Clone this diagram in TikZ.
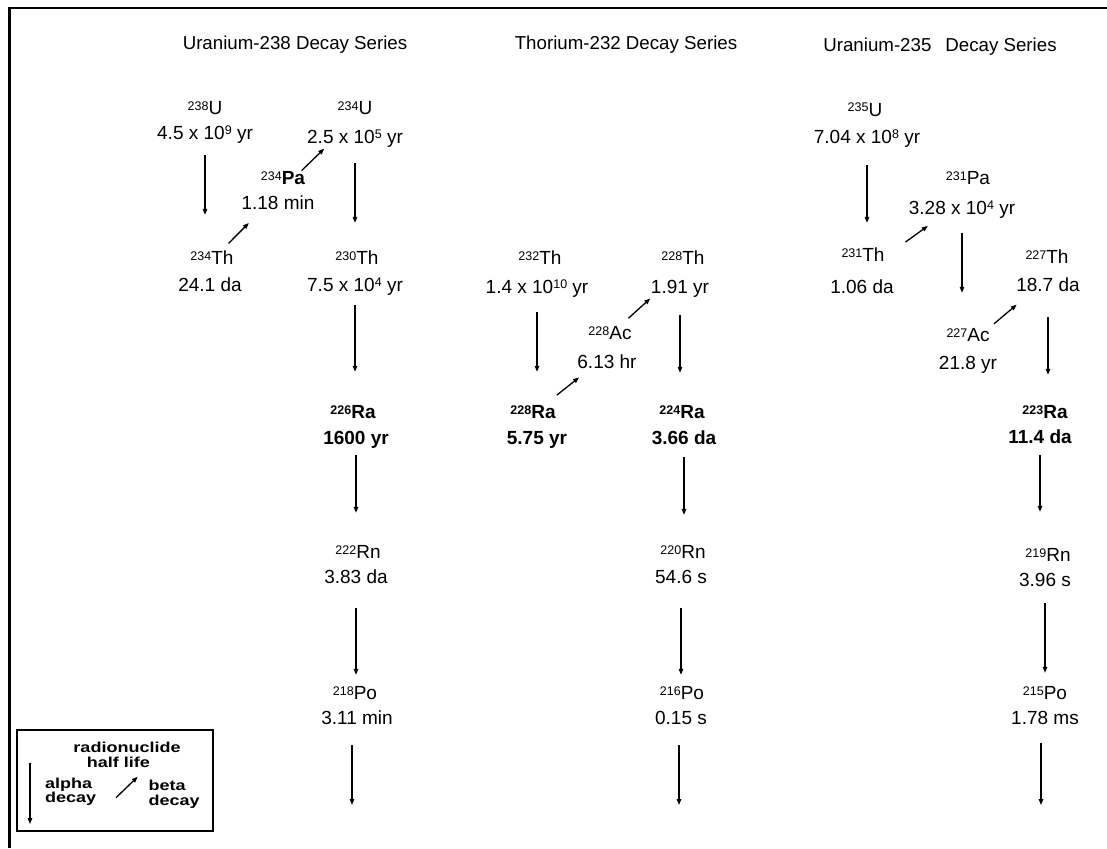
\documentclass[tikz,border=0pt]{standalone}
\usepackage{fontspec}
\setmainfont{Liberation Sans}
\usetikzlibrary{arrows.meta,calc}
\newcommand\iso[2]{\raisebox{4.5pt}{\fontsize{12.5}{12.5}\selectfont #1}#2}
\newcommand\sps[1]{\raisebox{5.5pt}{\fontsize{12.5}{12.5}\selectfont #1}}
\newcommand\squash[1]{\scalebox{1}[0.8]{#1}}
\begin{document}
\begin{tikzpicture}[x=1pt,y=-1pt,
 lbl/.style={inner sep=0pt, anchor=base, text height=13pt, text depth=4pt, font=\fontsize{19}{22}\selectfont},
 blbl/.style={lbl, font=\fontsize{19}{22}\selectfont\bfseries},
 ttl/.style={inner sep=0pt, anchor=base, font=\fontsize{18.7}{22}\selectfont},
 alphaarr/.style={line width=1.2pt, -{Triangle[length=6pt,width=4.5pt]}},
 betaarr/.style={line width=1.3pt, -{Triangle[length=6pt,width=4.5pt]}},
 leg/.style={inner sep=0pt, anchor=base west, font=\fontsize{18}{15}\selectfont\bfseries},
]
\useasboundingbox (0,0) rectangle (1107,848);
\fill[white] (0,0) rectangle (1107,848);
% frame
\draw[line width=2.3pt] (9.5,848) -- (9.5,8) -- (1107,8);

% titles
\node[ttl] (t238) at (295,49.5) {Uranium-238 Decay Series};
\node[ttl] (t232) at (626,49.5) {Thorium-232 Decay Series};
\node[ttl] (t235) at (940,51.5) {Uranium-235\hspace{14pt}Decay Series};

% U-238 series
\node[lbl] (u238n) at (205,114.5) {\iso{238}{U}};
\node[lbl] (u238h) at (205,139.5) {4.5 x 10\sps{9} yr};
\node[lbl] (th234n) at (212,264.5) {\iso{234}{Th}};
\node[lbl] (th234h) at (210,291.5) {24.1 da};
\node[lbl] (pa234n) at (283,184.5) {\iso{234}{\textbf{Pa}}};
\node[lbl] (pa234h) at (278,209.5) {1.18 min};
\node[lbl] (u234n) at (355,114.5) {\iso{234}{U}};
\node[lbl] (u234h) at (355,143.5) {2.5 x 10\sps{5} yr};
\node[lbl] (th230n) at (357,264.5) {\iso{230}{Th}};
\node[lbl] (th230h) at (355,291.5) {7.5 x 10\sps{4} yr};
\node[blbl] (ra226n) at (353,418.5) {\iso{226}{Ra}};
\node[blbl] (ra226h) at (356,444.5) {1600 yr};
\node[lbl] (rn222n) at (358,558.5) {\iso{222}{Rn}};
\node[lbl] (rn222h) at (356,583.5) {3.83 da};
\node[lbl] (po218n) at (355,699.5) {\iso{218}{Po}};
\node[lbl] (po218h) at (357,724.5) {3.11 min};

% Th-232 series
\node[lbl] (th232n) at (540,264.5) {\iso{232}{Th}};
\node[lbl] (th232h) at (537,293.5) {1.4 x 10\sps{10} yr};
\node[blbl] (ra228n) at (533,418.5) {\iso{228}{Ra}};
\node[blbl] (ra228h) at (537,444.5) {5.75 yr};
\node[lbl] (ac228n) at (610,339.5) {\iso{228}{Ac}};
\node[lbl] (ac228h) at (607,368.5) {6.13 hr};
\node[lbl] (th228n) at (683,264.5) {\iso{228}{Th}};
\node[lbl] (th228h) at (680,293.5) {1.91 yr};
\node[blbl] (ra224n) at (682,418.5) {\iso{224}{Ra}};
\node[blbl] (ra224h) at (684,444.5) {3.66 da};
\node[lbl] (rn220n) at (683,558.5) {\iso{220}{Rn}};
\node[lbl] (rn220h) at (681,583.5) {54.6 s};
\node[lbl] (po216n) at (682,699.5) {\iso{216}{Po}};
\node[lbl] (po216h) at (681,724.5) {0.15 s};

% U-235 series
\node[lbl] (u235n) at (865,116.5) {\iso{235}{U}};
\node[lbl] (u235h) at (867,143.5) {7.04 x 10\sps{8} yr};
\node[lbl] (th231n) at (863,261.5) {\iso{231}{Th}};
\node[lbl] (th231h) at (862,293.5) {1.06 da};
\node[lbl] (pa231n) at (968,184.5) {\iso{231}{Pa}};
\node[lbl] (pa231h) at (962,214.5) {3.28 x 10\sps{4} yr};
\node[lbl] (ac227n) at (968,341.5) {\iso{227}{Ac}};
\node[lbl] (ac227h) at (968,369.5) {21.8 yr};
\node[lbl] (th227n) at (1047,263.5) {\iso{227}{Th}};
\node[lbl] (th227h) at (1048,291.5) {18.7 da};
\node[blbl] (ra223n) at (1045,418.5) {\iso{223}{Ra}};
\node[blbl] (ra223h) at (1040,443.5) {11.4 da};
\node[lbl] (rn219n) at (1048,561.5) {\iso{219}{Rn}};
\node[lbl] (rn219h) at (1045,586.5) {3.96 s};
\node[lbl] (po215n) at (1045,699.5) {\iso{215}{Po}};
\node[lbl] (po215h) at (1045,724.5) {1.78 ms};

% free ends
\coordinate (po218e) at (352,805);
\coordinate (po216e) at (679,805);
\coordinate (po215e) at (1041,805);

% alpha decays U-238
\draw[alphaarr, shorten <=11.5pt, shorten >=36.5pt] (u238h.south) -- (u238h.south |- th234n.north);
\draw[alphaarr, shorten <=15.5pt, shorten >=28.5pt] (u234h.south) -- (u234h.south |- th230n.north);
\draw[alphaarr, shorten <=9.5pt, shorten >=33.5pt] (th230h.south) -- (th230h.south |- ra226n.north);
\draw[alphaarr, shorten <=6.5pt, shorten >=32.5pt] (ra226h.south) -- (ra226h.south |- rn222n.north);
\draw[alphaarr, shorten <=20.5pt, shorten >=11.5pt] (rn222h.south) -- (rn222h.south |- po218n.north);
\draw[alphaarr, shorten <=16.5pt] (po218h.south -| po218e) -- (po218e);
% beta decays U-238
\draw[betaarr, shorten <=23.4pt, shorten >=48.4pt] (th234n.center) -- (pa234n.south);
\draw[betaarr, shorten <=25.8pt, shorten >=42.9pt] (pa234n.south) -- (u234n.south);

% alpha decays Th-232
\draw[alphaarr, shorten <=14.5pt, shorten >=33.5pt] (th232h.south) -- (th232h.south |- ra228n.north);
\draw[alphaarr, shorten <=17.5pt, shorten >=32.5pt] (th228h.south) -- (th228h.south |- ra224n.north);
\draw[alphaarr, shorten <=8.5pt, shorten >=30.5pt] (ra224h.south) -- (ra224h.south |- rn220n.north);
\draw[alphaarr, shorten <=20.5pt, shorten >=11.5pt] (rn220h.south) -- (rn220h.south |- po216n.north);
\draw[alphaarr, shorten <=16.5pt] (po216h.south -| po216e) -- (po216e);
% beta decays Th-232
\draw[betaarr, shorten <=30.4pt, shorten >=35.6pt] (ra228n.center) -- (ac228h.north);
\draw[betaarr, shorten <=24.9pt, shorten >=44.3pt] (ac228n.center) -- (th228n.south);

% alpha decays U-235
\draw[alphaarr, shorten <=17.5pt, shorten >=25.5pt] (u235h.south) -- (u235h.south |- th231n.north);
\draw[alphaarr, shorten <=14.5pt, shorten >=35.5pt] (pa231h.south) -- (pa231h.south |- ac227n.north);
\draw[alphaarr, shorten <=21.5pt, shorten >=30.5pt] (th227h.south) -- (th227h.south |- ra223n.north);
\draw[alphaarr, shorten <=7.5pt, shorten >=36.5pt] (ra223h.south) -- (ra223h.south |- rn219n.north);
\draw[alphaarr, shorten <=12.5pt, shorten >=13.5pt] (rn219h.south) -- (rn219h.south |- po215n.north);
\draw[alphaarr, shorten <=14.5pt] (po215h.south -| po215e) -- (po215e);
% beta decays U-235
\draw[betaarr, shorten <=25.6pt, shorten >=42.1pt] (th231n.east) -- (pa231h.north);
\draw[betaarr, shorten <=33.9pt, shorten >=40.9pt] (ac227n.south) -- (th227h.north);

% legend
\node[draw, line width=2pt, minimum width=196pt, minimum height=101pt, inner sep=0pt] (legend) at (114.5,780.5) {};
\node[leg, anchor=base] (lg1) at (127,752.3) {\squash{radionuclide}};
\node[leg, anchor=base] (lg2) at (118.3,767.3) {\squash{half life}};
\node[leg] (lg3) at (45,788.3) {\squash{alpha}};
\node[leg] (lg4) at (45,802.3) {\squash{decay}};
\node[leg] (lg5) at (148.3,790) {\squash{beta}};
\node[leg] (lg6) at (148.3,805) {\squash{decay}};
\coordinate (la1) at (30,763);
\coordinate (la2) at (30,824);
\coordinate (lb1) at (116,797.7);
\coordinate (lb2) at (137.7,776.7);
\draw[alphaarr] (la1) -- (la2);
\draw[betaarr] (lb1) -- (lb2);
\end{tikzpicture}
\end{document}
